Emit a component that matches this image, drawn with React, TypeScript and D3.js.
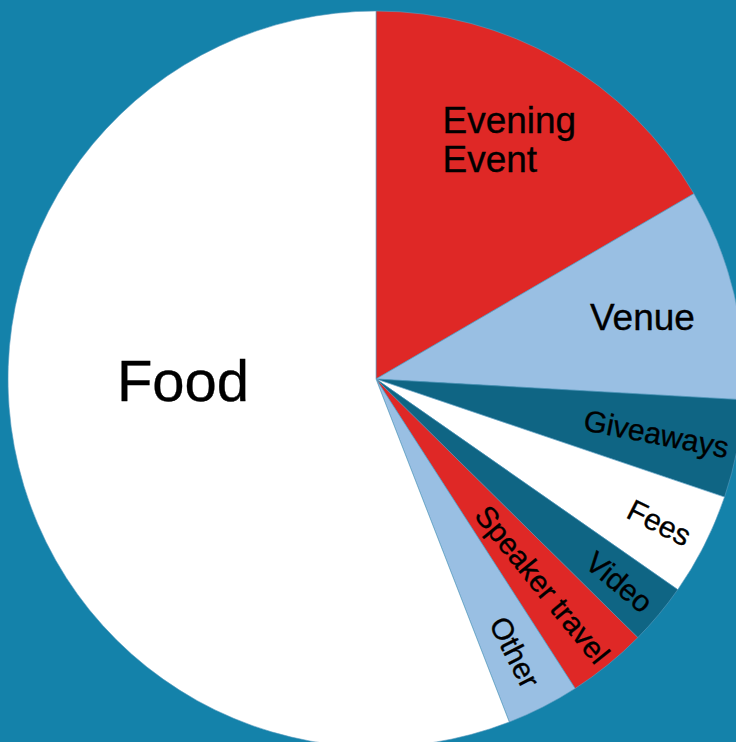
import React from "react";
import * as d3 from "d3";

const categories = ["Evening Event", "Venue", "Giveaways", "Fees", "Video", "Speaker travel", "Other", "Food"];
const values = [16.6, 9.3, 4.3, 4.5, 2.7, 3.5, 3.2, 55.9];
const colors = ["#df2826", "#99bfe3", "#0f6584", "#ffffff", "#0f6584", "#df2826", "#99bfe3", "#ffffff"];
// outer end radius of each radial label
const labelEndRadius = [0, 0, 359, 351, 355, 361, 344, 0];

const W = 736;
const H = 742;
const BG = "#1482aa";
const FONT = "'Liberation Sans', Helvetica, Arial, sans-serif";

export default function App() {
  const cx = 376;
  const cy = 379;
  const R = 368;

  const data = categories.map((c, i) => ({ name: c, value: values[i], color: colors[i], rEnd: labelEndRadius[i] }));
  const pie = d3.pie<any>().value((d: any) => d.value).sort(null);
  const arcs = pie(data);
  const arcGen = d3.arc<any>().innerRadius(0).outerRadius(R);

  const polar = (angle: number, r: number) => [r * Math.sin(angle), -r * Math.cos(angle)];
  const textStyle = { fontFamily: FONT, fill: "#000", stroke: "#000", strokeWidth: 0.35 };

  return (
    <svg
      width={W}
      height={H}
      style={{ position: "fixed", left: 0, top: 0, display: "block", background: BG }}
    >
      <rect x={0} y={0} width={W} height={H} fill={BG} />
      <g transform={`translate(${cx},${cy})`}>
        {arcs.map((a, i) => (
          <path key={i} d={arcGen(a) as string} fill={a.data.color} stroke="#5a9cc0" strokeWidth={0.6} />
        ))}
        {arcs.map((a, i) => {
          const mid = (a.startAngle + a.endAngle) / 2;
          const name = a.data.name;
          if (name === "Food") {
            const [x, y] = polar(-Math.PI / 2, 193);
            return (
              <text key={"l" + i} x={x} y={y + 22} textAnchor="middle" fontSize={58} {...textStyle}>
                {name}
              </text>
            );
          }
          if (name === "Evening Event") {
            const [x, y] = polar(mid, 276);
            return (
              <text key={"l" + i} fontSize={37} {...textStyle}>
                <tspan x={x - 71} y={y - 7}>Evening</tspan>
                <tspan x={x - 71} y={y + 32}>Event</tspan>
              </text>
            );
          }
          if (name === "Venue") {
            const [x, y] = polar(mid, 274);
            return (
              <text key={"l" + i} x={x} y={y + 15} textAnchor="middle" fontSize={37} {...textStyle}>
                {name}
              </text>
            );
          }
          const [x, y] = polar(mid, a.data.rEnd);
          const rot = (mid * 180) / Math.PI - 90;
          return (
            <text
              key={"l" + i}
              transform={`translate(${x},${y}) rotate(${rot})`}
              textAnchor="end"
              dy="0.36em"
              fontSize={30}
              {...textStyle}
            >
              {name}
            </text>
          );
        })}
      </g>
    </svg>
  );
}
